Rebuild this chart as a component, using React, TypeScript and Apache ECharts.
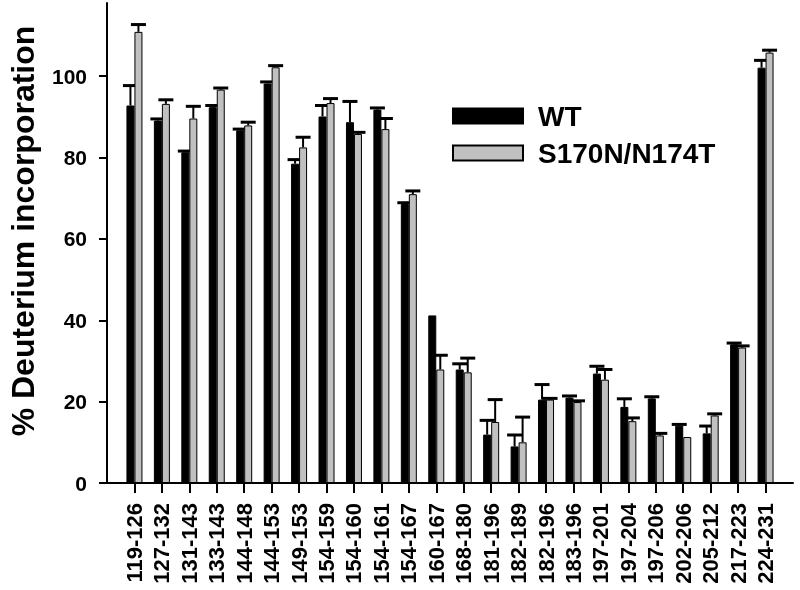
import React, { useEffect, useRef } from 'react';
import * as echarts from 'echarts';

const categories = [
  '119-126', '127-132', '131-143', '133-143', '144-148', '144-153', '149-153', '154-159',
  '154-160', '154-161', '154-167', '160-167', '168-180', '181-196', '182-189', '182-196',
  '183-196', '197-201', '197-204', '197-206', '202-206', '205-212', '217-223', '224-231',
];
const seriesNames = ['WT', 'S170N/N174T'];
const wtValues = [92.8, 89.1, 81.3, 92.4, 86.7, 98.2, 78.5, 90.1, 88.7, 91.8, 68.6, 41.2, 27.9, 11.9, 9.0, 20.5, 21.0, 26.9, 18.7, 20.8, 14.1, 12.2, 34.1, 102.1];
const wtErrors = [4.9, 0.4, 0.3, 0.4, 0.3, 0.4, 1.0, 2.7, 5.1, 0.4, 0.3, 0, 1.4, 3.5, 2.8, 3.7, 0.4, 1.8, 2.0, 0.4, 0.3, 1.8, 0.3, 1.8];
const mutValues = [110.9, 93.2, 89.6, 96.7, 87.9, 102.2, 82.5, 93.4, 85.8, 87.0, 71.0, 27.9, 27.2, 15.0, 10.0, 20.5, 19.9, 25.4, 15.2, 11.7, 11.3, 16.6, 33.3, 105.8];
const mutErrors = [1.8, 1.0, 3.0, 0.4, 0.8, 0.4, 2.5, 1.1, 0.4, 2.6, 0.8, 3.5, 3.5, 5.5, 6.2, 0.3, 0.3, 2.5, 0.8, 0.5, 0, 0.4, 0.4, 0.6];
const yTicks = [0, 20, 40, 60, 80, 100];
const yTitle = '% Deuterium incorporation';

const FONT = '"Liberation Sans", Arial, Helvetica, sans-serif';

export default function App() {
  const ref = useRef<HTMLDivElement>(null);
  useEffect(() => {
    const chart = echarts.init(ref.current as HTMLDivElement, null, { renderer: 'svg' });
    const axisCats = ['', ...categories, ''];
    const pad = (arr: number[]) => ['-', ...arr, '-'];
    const errData = (vals: number[], errs: number[]) => vals.map((v, i) => [i + 1, v, errs[i]]);
    const makeErr = (offset: number) => (params: any, api: any) => {
      const idx = api.value(0);
      const v = api.value(1);
      const e = api.value(2);
      if (!(e > 0)) return null;
      const base = api.coord([idx, v]);
      const top = api.coord([idx, v + e]);
      const x = base[0] + offset;
      return {
        type: 'group',
        children: [
          { type: 'line', shape: { x1: x, y1: base[1], x2: x, y2: top[1] }, style: { stroke: '#000', lineWidth: 2 } },
          { type: 'line', shape: { x1: x - 7.5, y1: top[1], x2: x + 7.5, y2: top[1] }, style: { stroke: '#000', lineWidth: 3 } },
        ],
      };
    };
    chart.setOption({
      animation: false,
      textStyle: { fontFamily: FONT },
      grid: { left: 107, right: 7, top: 3, bottom: 107, containLabel: false },
      legend: {
        data: seriesNames,
        orient: 'vertical',
        left: 447,
        top: 97,
        itemWidth: 70,
        itemHeight: 15,
        itemGap: 9,
        icon: 'rect',
        selectedMode: false,
        textStyle: { fontSize: 28, fontWeight: 'bold', color: '#000', fontFamily: FONT, padding: [0, 0, 0, 10] },
      },
      xAxis: {
        type: 'category',
        data: axisCats,
        boundaryGap: false,
        axisLine: { lineStyle: { color: '#000', width: 2 } },
        axisTick: {
          interval: (i: number) => i > 0 && i < axisCats.length - 1,
          length: 10,
          lineStyle: { color: '#000', width: 2 },
        },
        axisLabel: {
          interval: 0,
          rotate: 90,
          margin: 20,
          fontSize: 22,
          fontWeight: 'bold',
          color: '#000',
          fontFamily: FONT,
        },
        splitLine: { show: false },
      },
      yAxis: {
        type: 'value',
        min: 0,
        max: 118,
        axisLine: { show: true, lineStyle: { color: '#000', width: 2 } },
        axisTick: { show: true, customValues: yTicks, length: 8, lineStyle: { color: '#000', width: 2 } },
        axisLabel: { customValues: yTicks, margin: 20, fontSize: 21, fontWeight: 'bold', color: '#000', fontFamily: FONT },
        splitLine: { show: false },
      },
      graphic: [
        {
          type: 'text',
          x: 23,
          y: 231,
          rotation: Math.PI / 2,
          style: {
            text: yTitle,
            fontSize: 32,
            fontWeight: 'bold',
            fontFamily: FONT,
            fill: '#000',
            align: 'center',
            verticalAlign: 'middle',
          },
        },
      ],
      series: [
        {
          name: seriesNames[0],
          type: 'bar',
          data: pad(wtValues),
          barWidth: 8,
          barGap: '0%',
          itemStyle: { color: '#000', borderColor: '#000', borderWidth: 1 },
        },
        {
          name: seriesNames[0] + ' err',
          type: 'custom',
          data: errData(wtValues, wtErrors),
          renderItem: makeErr(-4),
          encode: { x: 0, y: 1 },
          silent: true,
        },
        {
          name: seriesNames[1],
          type: 'bar',
          data: pad(mutValues),
          barWidth: 8,
          barGap: '0%',
          itemStyle: { color: '#c0c0c0', borderColor: '#000', borderWidth: 1 },
        },
        {
          name: seriesNames[1] + ' err',
          type: 'custom',
          data: errData(mutValues, mutErrors),
          renderItem: makeErr(4),
          encode: { x: 0, y: 1 },
          silent: true,
        },
      ],
    });
    return () => chart.dispose();
  }, []);
  return <div ref={ref} style={{ position: 'fixed', left: 0, top: 0, width: 800, height: 590 }} />;
}
